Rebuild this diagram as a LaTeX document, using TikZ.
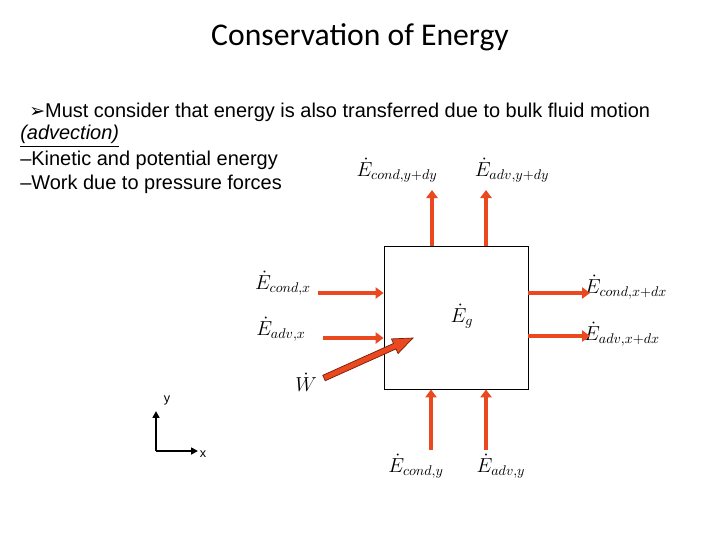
\documentclass[tikz,border=0pt]{standalone}
\usepackage{fontspec}
\setmainfont{Liberation Sans}
\newfontfamily\titlefont{Carlito}
\newfontfamily\symfont{DejaVu Sans}
\usepackage{amsmath}
\usetikzlibrary{arrows.meta, positioning, calc}
\definecolor{arrowred}{RGB}{234,72,30}
\definecolor{wborder}{RGB}{120,30,10}

\begin{document}
\begin{tikzpicture}[x=0.025cm, y=-0.025cm,
  flow/.style={draw=arrowred, line width=0.1cm, -{Triangle[length=0.2cm, width=0.28cm]}},
  lab/.style={inner sep=0pt, font=\fontsize{14}{16}\selectfont},
  txt/.style={anchor=west, inner sep=0pt, font=\fontsize{14.2}{16}\selectfont}]
\useasboundingbox (0,0) rectangle (720,540);

% title and bullet text
\node[font=\titlefont\fontsize{22.5}{26}\selectfont] (title) at (360,37) {Conservation of Energy};
\node[txt] (l1) at (29,112) {{\symfont\fontsize{13.5}{15}\selectfont ➢}Must consider that energy is also transferred due to bulk fluid motion};
\node[txt] (l2) at (20,136) {\underline{\itshape (advection)}};
\node[txt] (l3) at (20,160) {--Kinetic and potential energy};
\node[txt] (l4) at (20,184) {--Work due to pressure forces};

% control volume
\node[draw, line width=0.6pt, minimum width=3.6cm, minimum height=3.575cm, inner sep=0pt] (cv) at (456,317.5) {};
\node[lab] (eg) at (462,316) {$\dot{E}_g$};

% labels of the energy flows
\node[lab] (ecyd) at (397,170) {$\dot{E}_{cond,y+dy}$};
\node[lab] (eayd) at (512,170) {$\dot{E}_{adv,y+dy}$};
\node[lab] (ecx) at (283,283) {$\dot{E}_{cond,x}$};
\node[lab] (eax) at (281,329) {$\dot{E}_{adv,x}$};
\node[lab] (ecxd) at (626,287) {$\dot{E}_{cond,x+dx}$};
\node[lab] (eaxd) at (622,334) {$\dot{E}_{adv,x+dx}$};
\node[lab] (ecy) at (416,466) {$\dot{E}_{cond,y}$};
\node[lab] (eay) at (501,466) {$\dot{E}_{adv,y}$};
\node[lab] (wdot) at (306,382) {$\dot{W}$};

% free ends of the arrows
\coordinate (t1) at (432,190);
\coordinate (t2) at (486,190);
\coordinate (s1) at (318,293);
\coordinate (s2) at (323,338);
\coordinate (r1) at (590,293);
\coordinate (r2) at (590,336);
\coordinate (b1) at (431,450);
\coordinate (b2) at (486,450);

\draw[flow] (cv.north -| t1) -- (t1);
\draw[flow] (cv.north -| t2) -- (t2);
\draw[flow] (s1) -- (s1 -| cv.west);
\draw[flow] (s2) -- (s2 -| cv.west);
\draw[flow] (r1 -| cv.east) -- (r1);
\draw[flow] (r2 -| cv.east) -- (r2);
\draw[flow] (b1) -- (b1 |- cv.south);
\draw[flow] (b2) -- (b2 |- cv.south);

% work arrow
\coordinate (wt) at (324,378);
\coordinate (wh) at (413,338);
\coordinate (hb) at ($(wh)!0.5cm!(wt)$);
\draw[fill=arrowred, draw=wborder, line width=0.5pt]
  ($(wt)!0.075cm!90:(wh)$) -- ($(hb)!0.075cm!-90:(wt)$) -- ($(hb)!0.2cm!-90:(wt)$)
  -- (wh) -- ($(hb)!0.2cm!90:(wt)$) -- ($(hb)!0.075cm!90:(wt)$)
  -- ($(wt)!0.075cm!-90:(wh)$) -- cycle;

% axes
\coordinate (org) at (156,451);
\coordinate (ytip) at (156,411);
\coordinate (xtip) at (198,451);
\draw[line width=1.3pt, -{Triangle[length=0.17cm, width=0.17cm]}] (org) -- (ytip);
\draw[line width=1.3pt, -{Triangle[length=0.17cm, width=0.17cm]}] (org) -- (xtip);
\node[inner sep=0pt, font=\fontsize{9}{10}\selectfont] (ylab) at (167,400) {y};
\node[inner sep=0pt, font=\fontsize{9}{10}\selectfont] (xlab) at (203,454) {x};
\end{tikzpicture}
\end{document}
